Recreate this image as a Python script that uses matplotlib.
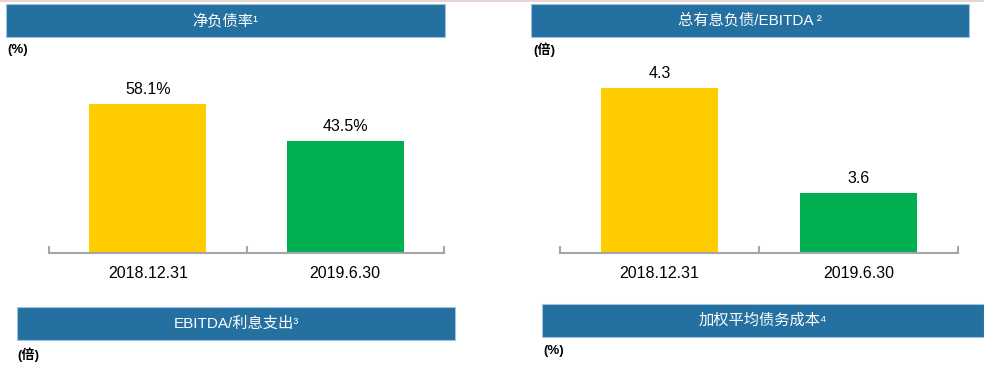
import matplotlib.pyplot as plt
from matplotlib.patches import Rectangle
from matplotlib.ticker import FixedLocator

plt.rcParams.update({
    "font.family": ["Liberation Sans", "Noto Sans CJK SC", "DejaVu Sans"],
    "font.size": 11.5,
})

dates = ["2018.12.31", "2019.6.30"]
net_debt_ratio = [58.1, 43.5]
debt_to_ebitda = [4.3, 3.6]
bar_colors = ["#ffcc00", "#00b050"]

W, H = 984, 365
BOX = "#2370a1"
AXIS = "#a6a6a6"

fig = plt.figure(figsize=(W / 100, H / 100), dpi=100)


def px(x0, y0, x1, y1):
    # pixel box (top-left origin) -> figure fraction [left, bottom, width, height]
    return [x0 / W, 1 - y1 / H, (x1 - x0) / W, (y1 - y0) / H]


def title_box(x0, y0, x1, y1, text):
    l, b, w, h = px(x0, y0, x1, y1)
    fig.patches.append(Rectangle((l, b), w, h, transform=fig.transFigure,
                                 facecolor=BOX, edgecolor="#9dc3dd", linewidth=0.8))
    fig.text(l + w / 2, b + h / 2, text, color="white", fontsize=11,
             ha="center", va="center")


def unit(x, y, text):
    fig.text(x / W, 1 - y / H, text, fontsize=9.5, fontweight="bold",
             ha="left", va="center")


def bar_panel(rect, values, ylim, fmt):
    ax = fig.add_axes(px(*rect))
    xs = range(len(values))
    bars = ax.bar(xs, values, width=0.59, color=bar_colors, bottom=0)
    ax.set_xlim(-0.5, len(values) - 0.5)
    ax.set_ylim(*ylim)
    for s in ["top", "left", "right"]:
        ax.spines[s].set_visible(False)
    ax.spines["bottom"].set_color(AXIS)
    ax.spines["bottom"].set_linewidth(1.5)
    ax.set_yticks([])
    ax.set_xticks(list(xs))
    ax.set_xticklabels(dates)
    ax.tick_params(axis="x", which="major", length=0, pad=10, labelsize=11.5)
    ax.xaxis.set_minor_locator(FixedLocator([i - 0.5 for i in range(len(values) + 1)]))
    ax.tick_params(axis="x", which="minor", direction="in", length=5,
                   width=1.5, color=AXIS)
    for b, v in zip(bars, values):
        ax.annotate(fmt.format(v), (b.get_x() + b.get_width() / 2, v),
                    xytext=(0, 5), textcoords="offset points",
                    ha="center", va="bottom", fontsize=11.5)
    return ax


# faint line along the top edge
fig.add_artist(plt.Line2D([0, 1], [1 - 0.5 / H, 1 - 0.5 / H], transform=fig.transFigure,
                          color="#e3cccc", linewidth=1.2))

title_box(6, 4, 445, 37, "净负债率¹")
title_box(531, 4, 969, 37, "总有息负债/EBITDA ²")
title_box(17, 307, 455, 340, "EBITDA/利息支出³")
title_box(542, 304, 984, 337, "加权平均债务成本⁴")

unit(7, 50, "(%)")
unit(533, 50, "(倍)")
unit(17, 355, "(倍)")
unit(543, 351, "(%)")

# left: net debt ratio, zero based
bar_panel((49, 45, 444, 252.5), net_debt_ratio, (0, 207.5 / (148.5 / 58.1)), "{:.1f}%")

# right: debt / EBITDA, axis starts at 3.2
ax = bar_panel((560, 45, 958, 252.5), debt_to_ebitda, (3.2, 3.2 + 207.5 / 150), "{:.1f}")
for b in ax.patches:
    b.set_y(3.2)
    b.set_height(b.get_height() - 3.2)

fig.savefig("out.png", dpi=100)
